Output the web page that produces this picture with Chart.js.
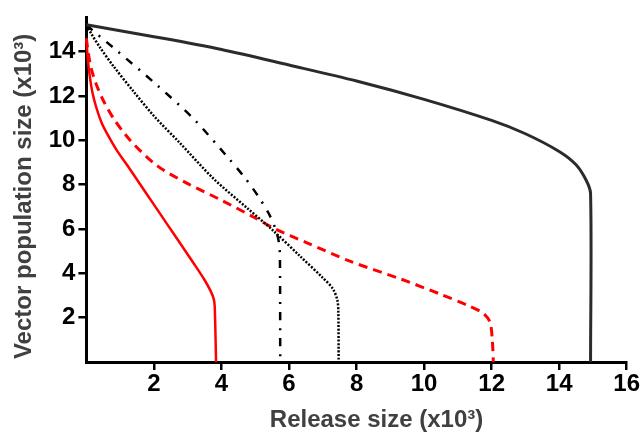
<!DOCTYPE html>
<html>
<head>
<meta charset="utf-8">
<script src="https://cdn.jsdelivr.net/npm/chart.js@4"></script>
<style>
  body { margin: 0; background: #fff; }
</style>
</head>
<body>
<canvas id="releaseChart" width="644" height="439"></canvas>
<script>
// ==========================
// DATA (x10^3)
// ==========================
const releaseBlackSolid = [0, 2, 4, 6, 8, 10, 12, 13, 14, 14.5, 14.8, 14.93, 14.93];
const vectorBlackSolid  = [15.22, 14.68, 14.1, 13.4, 12.68, 11.85, 10.9, 10.3, 9.5, 8.9, 8.2, 7.6, 0];

const releaseDashDot = [0, 0.9, 2.08, 3.17, 4.15, 4.7, 5.1, 5.4, 5.6, 5.7, 5.73, 5.74];
const vectorDashDot  = [15.2, 14.05, 12.51, 10.98, 9.3, 8.3, 7.45, 6.7, 6.0, 5.4, 4.8, 0];

const releaseDotted = [0, 0.15, 0.4, 0.8, 1.4, 2.0, 2.77, 3.76, 4.75, 5.53, 6.33, 7.0, 7.3, 7.43, 7.46, 7.47];
const vectorDotted  = [15.2, 14.8, 14.2, 13.35, 12.2, 11.1, 9.88, 8.28, 6.96, 5.93, 4.77, 3.8, 3.3, 2.8, 2.3, 0];

const releaseRedDashed = [0, 0.05, 0.15, 0.3, 0.5, 0.8, 1.3, 2.1, 3.0, 4.0, 5.0, 5.6, 6.5, 7.8, 9.3, 10.5, 11.3, 11.75, 11.95, 12.02, 12.05];
const vectorRedDashed  = [14.6, 14.0, 13.2, 12.5, 11.8, 11.0, 10.0, 8.85, 8.05, 7.3, 6.5, 6.0, 5.4, 4.55, 3.75, 3.05, 2.55, 2.2, 1.8, 1.0, 0];

const releaseRedSolid = [0, 0.04, 0.1, 0.18, 0.3, 0.45, 0.65, 0.9, 1.2, 1.6, 2.0, 2.4, 2.8, 3.2, 3.5, 3.68, 3.77, 3.8, 3.84];
const vectorRedSolid  = [14.6, 13.7, 12.9, 12.15, 11.45, 10.8, 10.2, 9.55, 8.9, 8.0, 7.1, 6.2, 5.3, 4.4, 3.7, 3.2, 2.85, 2.5, 0];

const xTickValues = [2, 4, 6, 8, 10, 12, 14, 16];
const yTickValues = [2, 4, 6, 8, 10, 12, 14];

function toPoints(xs, ys) {
    return xs.map((x, i) => ({ x: x, y: ys[i] }));
}

// ==========================
// CHART
// ==========================
const font = { family: "'Liberation Sans', Arial, sans-serif", weight: 'bold', size: 24 };

const ctx = document.getElementById('releaseChart').getContext('2d');

const releaseChart = new Chart(ctx, {
    type: 'scatter',
    data: {
        datasets: [
            {
                data: toPoints(releaseBlackSolid, vectorBlackSolid),
                borderColor: '#2b2b2b',
                borderWidth: 3
            },
            {
                data: toPoints(releaseDashDot, vectorDashDot),
                borderColor: '#000',
                borderWidth: 2.5,
                borderDash: [8, 8, 2, 8]
            },
            {
                data: toPoints(releaseDotted, vectorDotted),
                borderColor: '#000',
                borderWidth: 2.5,
                borderDash: [2, 1.6]
            },
            {
                data: toPoints(releaseRedDashed, vectorRedDashed),
                borderColor: '#ff0000',
                borderWidth: 3,
                borderDash: [9, 6]
            },
            {
                data: toPoints(releaseRedSolid, vectorRedSolid),
                borderColor: '#ff0000',
                borderWidth: 2.5
            }
        ]
    },
    options: {
        responsive: false,
        animation: false,
        devicePixelRatio: 1,
        datasets: {
            scatter: {
                showLine: true,
                pointRadius: 0,
                tension: 0.3,
                fill: false,
                clip: false
            }
        },
        layout: {
            padding: { left: 0, right: 17.3, top: 7, bottom: 0 }
        },
        plugins: {
            legend: { display: false },
            tooltip: { enabled: false }
        },
        scales: {
            x: {
                type: 'linear',
                min: 0,
                max: 16,
                afterBuildTicks: (scale) => {
                    scale.ticks = xTickValues.map(v => ({ value: v }));
                },
                afterFit: (scale) => { scale.height = 77; },
                ticks: { color: '#000', font: font, padding: 0 },
                grid: {
                    drawOnChartArea: false,
                    drawTicks: true,
                    tickLength: 8,
                    tickColor: '#000',
                    lineWidth: 2.5
                },
                border: { display: true, color: '#000', width: 3 },
                title: {
                    display: true,
                    // leading spaces push the centred title a little right, as in the original
                    text: '      Release size (x10³)',
                    color: '#404040',
                    font: font,
                    padding: { top: 0, bottom: 4 }
                }
            },
            y: {
                type: 'linear',
                min: 0,
                max: 15.55,
                afterBuildTicks: (scale) => {
                    scale.ticks = yTickValues.map(v => ({ value: v }));
                },
                afterFit: (scale) => { scale.width = 86.4; },
                ticks: { color: '#000', font: font, padding: 3 },
                grid: {
                    drawOnChartArea: false,
                    drawTicks: true,
                    tickLength: 8,
                    tickColor: '#000',
                    lineWidth: 2.5
                },
                border: { display: true, color: '#000', width: 3 },
                title: {
                    display: true,
                    text: 'Vector population size (x10³)  ',
                    color: '#404040',
                    font: font,
                    padding: { top: 10, bottom: 0 }
                }
            }
        }
    }
});
</script>
</body>
</html>
